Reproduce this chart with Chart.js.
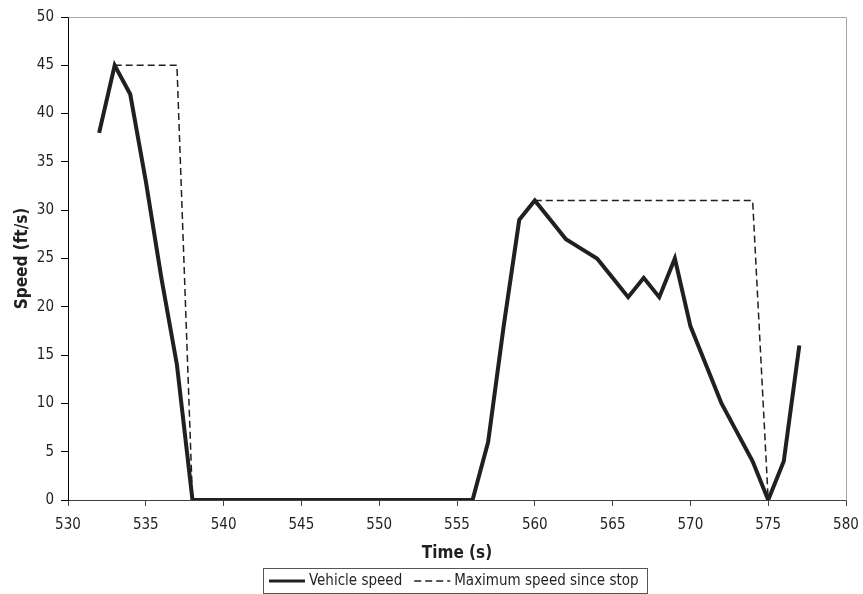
<!DOCTYPE html>
<html>
<head>
<meta charset="utf-8">
<script src="https://cdn.jsdelivr.net/npm/chart.js@4/dist/chart.umd.min.js"></script>
<style>
  html, body { margin: 0; padding: 0; background: #ffffff; }
  #wrap { width: 863px; height: 594px; }
</style>
</head>
<body>
<div id="wrap"><canvas id="speedChart" width="863" height="594"></canvas></div>
<script>
// Time stamps (s) of each speed sample
const timeSeconds = [
  532, 533, 534, 535, 536, 537, 538, 539, 540, 541, 542, 543, 544, 545, 546, 547,
  548, 549, 550, 551, 552, 553, 554, 555, 556, 557, 558, 559, 560, 561, 562, 563,
  564, 565, 566, 567, 568, 569, 570, 571, 572, 573, 574, 575, 576, 577
];

// Measured vehicle speed (ft/s)
const vehicleSpeed = [
  38, 45, 42, 33, 23, 14, 0, 0, 0, 0, 0, 0, 0, 0, 0, 0,
  0, 0, 0, 0, 0, 0, 0, 0, 0, 6, 18, 29, 31, 29, 27, 26,
  25, 23, 21, 23, 21, 25, 18, 14, 10, 7, 4, 0, 4, 16
];

// Peak speed reached since the previous stop (ft/s); null where not plotted
const maxSpeedSinceStop = [
  null, 45, 45, 45, 45, 45, 0, null, null, null, null, null, null, null, null, null,
  null, null, null, null, null, null, null, null, null, null, null, null, 31, 31, 31, 31,
  31, 31, 31, 31, 31, 31, 31, 31, 31, 31, 31, 0, null, null
];

// Axis ranges and tick steps
const xAxisRange = [530, 580, 5];
const yAxisRange = [0, 50, 5];

const seriesNames = ['Vehicle speed', 'Maximum speed since stop'];

const FONT = '"DejaVu Sans Condensed", "Open Sans", sans-serif';
const INK = '#231f20';

const toPoints = (vals) => timeSeconds.map((t, i) => ({ x: t, y: vals[i] }));

// Grey frame on the top and right edges of the plot area
const plotFrame = {
  id: 'plotFrame',
  beforeDatasetsDraw(chart) {
    const { ctx, chartArea: a } = chart;
    ctx.save();
    ctx.strokeStyle = '#a6a6a6';
    ctx.lineWidth = 1;
    ctx.beginPath();
    ctx.moveTo(Math.round(a.left) + 0.5, Math.round(a.top) + 0.5);
    ctx.lineTo(Math.round(a.right) + 0.5, Math.round(a.top) + 0.5);
    ctx.lineTo(Math.round(a.right) + 0.5, Math.round(a.bottom) + 0.5);
    ctx.stroke();
    ctx.restore();
  }
};

// Boxed legend under the axis title
const boxedLegend = {
  id: 'boxedLegend',
  afterDraw(chart) {
    const { ctx } = chart;
    const ds = chart.data.datasets;
    ctx.save();
    ctx.font = '15px ' + FONT;
    const sample = 36, gapAfterSample = 4, gapBetween = 12, padLeft = 6, padRight = 8;
    const widths = ds.map(d => ctx.measureText(d.label).width);
    const total = padLeft + padRight + widths.reduce((s, w) => s + sample + gapAfterSample + w, 0) + gapBetween * (ds.length - 1);
    const left = 263;
    const top = 568, h = 25;
    ctx.strokeStyle = '#555555';
    ctx.lineWidth = 1;
    ctx.strokeRect(left + 0.5, top + 0.5, Math.round(total), h);
    const midY = top + h / 2 + 0.5;
    let x = left + padLeft;
    ds.forEach((d, i) => {
      ctx.beginPath();
      ctx.strokeStyle = d.borderColor;
      ctx.lineWidth = i === 0 ? 3 : 1.5;
      ctx.setLineDash(d.borderDash || []);
      ctx.moveTo(x, midY);
      ctx.lineTo(x + sample, midY);
      ctx.stroke();
      ctx.setLineDash([]);
      x += sample + gapAfterSample;
      ctx.fillStyle = INK;
      ctx.textBaseline = 'middle';
      ctx.textAlign = 'left';
      ctx.fillText(d.label, x, midY);
      x += widths[i] + gapBetween;
    });
    ctx.restore();
  }
};

new Chart(document.getElementById('speedChart'), {
  type: 'line',
  data: {
    datasets: [
      {
        label: seriesNames[0],
        data: toPoints(vehicleSpeed),
        borderColor: INK,
        borderWidth: 4,
        pointRadius: 0,
        tension: 0,
        spanGaps: false,
        borderJoinStyle: 'miter',
        order: 1
      },
      {
        label: seriesNames[1],
        data: toPoints(maxSpeedSinceStop),
        borderColor: INK,
        borderWidth: 1.5,
        borderDash: [7, 4],
        pointRadius: 0,
        tension: 0,
        spanGaps: false,
        order: 2
      }
    ]
  },
  options: {
    responsive: false,
    animation: false,
    devicePixelRatio: 1,
    layout: { padding: { top: 17, right: 17, left: 0, bottom: 0 } },
    plugins: {
      legend: { display: false },
      tooltip: { enabled: false }
    },
    scales: {
      x: {
        type: 'linear',
        min: xAxisRange[0],
        max: xAxisRange[1],
        ticks: {
          stepSize: xAxisRange[2],
          color: INK,
          font: { family: FONT, size: 15 },
          padding: 10,
          maxRotation: 0
        },
        grid: { drawOnChartArea: false, drawTicks: true, tickLength: 6, tickColor: '#404040' },
        border: { color: '#404040', width: 1 },
        title: {
          display: true,
          text: 'Time (s)',
          color: INK,
          font: { family: FONT, size: 17, weight: 'bold' },
          padding: { top: 0, bottom: 30 }
        },
        afterFit(scale) {
          scale.height = 94;
          scale.paddingLeft = 0;
          scale.paddingRight = 0;
        }
      },
      y: {
        type: 'linear',
        min: yAxisRange[0],
        max: yAxisRange[1],
        ticks: {
          stepSize: yAxisRange[2],
          color: INK,
          font: { family: FONT, size: 15 },
          padding: 7
        },
        grid: { drawOnChartArea: false, drawTicks: true, tickLength: 7, tickColor: '#000000' },
        border: { color: '#000000', width: 1 },
        title: {
          display: true,
          text: 'Speed (ft/s)',
          color: INK,
          font: { family: FONT, size: 17, weight: 'bold' },
          padding: { top: 12, bottom: 0 }
        },
        afterFit(scale) {
          scale.width = 68;
          scale.paddingTop = 0;
          scale.paddingBottom = 0;
        }
      }
    }
  },
  plugins: [plotFrame, boxedLegend]
});
</script>
</body>
</html>
